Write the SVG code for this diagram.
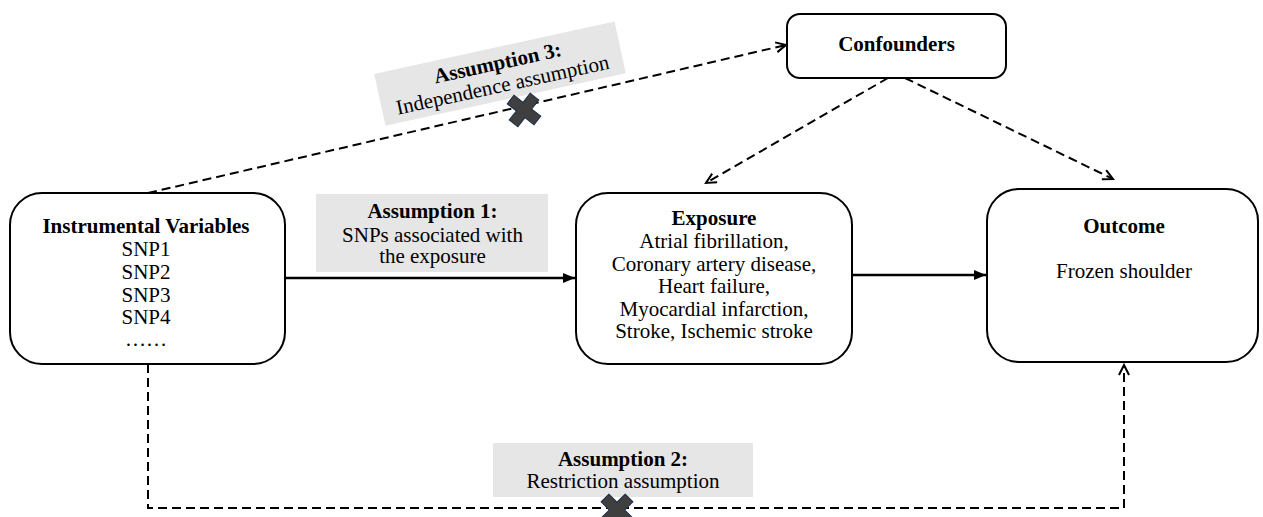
<svg xmlns="http://www.w3.org/2000/svg" width="1263" height="517" viewBox="0 0 1263 517">
<style>
.box{fill:#fff;stroke:#000;stroke-width:2}
.lab{fill:#e6e6e6;stroke:none}
text{font-family:"Liberation Serif","Times New Roman",serif;font-size:21px;fill:#000;text-anchor:middle}
.b{font-weight:bold}
.dash{fill:none;stroke:#000;stroke-width:2;stroke-dasharray:9 5}
.solid{fill:none;stroke:#000;stroke-width:2.5}
.x{fill:#3f3f3f;stroke:#1e2d4a;stroke-width:1}
</style>
<defs>
<marker id="open" markerUnits="userSpaceOnUse" markerWidth="14" markerHeight="14" refX="11" refY="6" orient="auto">
<path d="M1,1 L11,6 L1,11" fill="none" stroke="#000" stroke-width="2"/>
</marker>
<marker id="fill" markerUnits="userSpaceOnUse" markerWidth="14" markerHeight="12" refX="12" refY="5" orient="auto">
<path d="M0,0 L12,5 L0,10 z" fill="#000"/>
</marker>
<polygon id="cross" points="-5.5,-17 5.5,-17 5.5,-5.5 17,-5.5 17,5.5 5.5,5.5 5.5,17 -5.5,17 -5.5,5.5 -17,5.5 -17,-5.5 -5.5,-5.5"/>
</defs>

<g id="connectors">
<line class="dash" x1="148" y1="193" x2="786" y2="45" marker-end="url(#open)"/>
<line class="dash" x1="888" y1="78" x2="706" y2="183" marker-end="url(#open)"/>
<line class="dash" x1="905" y1="78" x2="1113" y2="179" marker-end="url(#open)"/>
<polyline class="dash" points="148,364 148,508 1124,508 1124,365" marker-end="url(#open)"/>
<line class="solid" x1="285" y1="278" x2="575" y2="278" marker-end="url(#fill)"/>
<line class="solid" x1="852" y1="275" x2="986" y2="275" marker-end="url(#fill)"/>
</g>

<g id="assumption3">
<g transform="translate(500,73.6) rotate(-12.3)">
<rect class="lab" x="-123" y="-26.5" width="246" height="53"/>
<text class="b" x="0" y="-4">Assumption 3:</text>
<text x="0" y="18.5">Independence assumption</text>
</g>
<use href="#cross" class="x" transform="translate(524,110) rotate(38)"/>
</g>

<g id="confounders">
<rect class="box" x="787" y="14" width="219" height="64" rx="13"/>
<text class="b" x="896.5" y="51">Confounders</text>
</g>

<g id="instrumental">
<rect class="box" x="10" y="193" width="275" height="171" rx="32"/>
<text class="b" x="146" y="233">Instrumental Variables</text>
<text x="146" y="256">SNP1</text>
<text x="146" y="279">SNP2</text>
<text x="146" y="302">SNP3</text>
<text x="146" y="324">SNP4</text>
<text x="146" y="346">……</text>
</g>

<g id="assumption1">
<rect class="lab" x="316" y="194" width="232" height="78"/>
<text class="b" x="432.5" y="218">Assumption 1:</text>
<text x="432.5" y="241.5">SNPs associated with</text>
<text x="432.5" y="263">the exposure</text>
</g>

<g id="exposure">
<rect class="box" x="576" y="193" width="276" height="171" rx="32"/>
<text class="b" x="714" y="225">Exposure</text>
<text x="714" y="248">Atrial fibrillation,</text>
<text x="714" y="270.5">Coronary artery disease,</text>
<text x="714" y="293">Heart failure,</text>
<text x="714" y="315.5">Myocardial infarction,</text>
<text x="714" y="337.5">Stroke, Ischemic stroke</text>
</g>

<g id="outcome">
<rect class="box" x="987" y="189" width="271" height="173" rx="32"/>
<text class="b" x="1124" y="233">Outcome</text>
<text x="1124" y="278">Frozen shoulder</text>
</g>

<g id="assumption2">
<rect class="lab" x="493" y="443" width="260" height="54"/>
<text class="b" x="623" y="466">Assumption 2:</text>
<text x="623" y="488">Restriction assumption</text>
<use href="#cross" class="x" transform="translate(617,510) rotate(45)"/>
</g>
</svg>
